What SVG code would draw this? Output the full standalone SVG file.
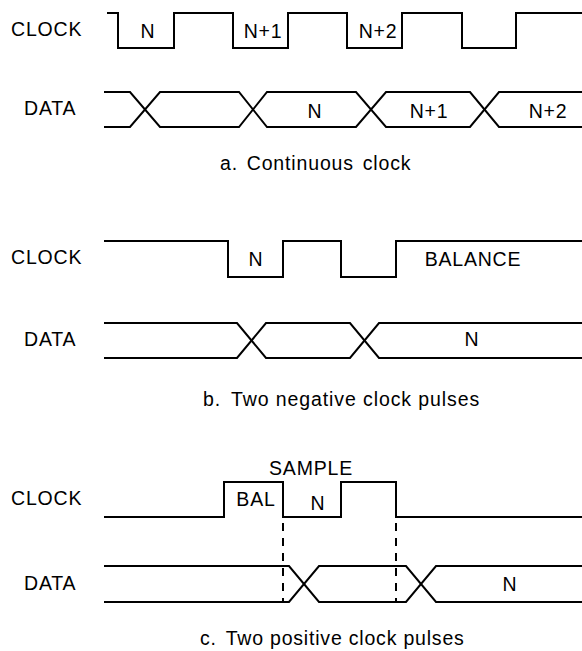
<svg xmlns="http://www.w3.org/2000/svg" width="582" height="651" viewBox="0 0 582 651">
<style>
.w{fill:none;stroke:#000;stroke-width:2;stroke-linejoin:miter;stroke-linecap:butt}
.d{fill:none;stroke:#000;stroke-width:2;stroke-dasharray:8 7}
text{font-family:"Liberation Sans",Arial,Helvetica,sans-serif;font-size:19.5px;fill:#000;letter-spacing:0.8px}
.m{text-anchor:middle}
</style>
<rect width="582" height="651" fill="#fff"/>
<g id="section-a">
<g id="a-clock">
<text x="11" y="36">CLOCK</text>
<path class="w" d="M107,13 H118 V48 H174 V13 H233 V48 H288 V13 H347 V48 H402 V13 H462 V48 H516 V13 H582"/>
<text class="m" x="148" y="38">N</text>
<text class="m" x="263" y="38">N+1</text>
<text class="m" x="378" y="38">N+2</text>
</g>
<g id="a-data">
<text x="24" y="115">DATA</text>
<path class="w" d="M104,92 H130 L160,127 H239 L267,92 H356 L386,127 H470 L499,92 H582"/>
<path class="w" d="M104,127 H130 L160,92 H239 L267,127 H356 L386,92 H470 L499,127 H582"/>
<text class="m" x="315" y="118">N</text>
<text class="m" x="429" y="118">N+1</text>
<text class="m" x="548" y="118">N+2</text>
</g>
<text id="a-caption" x="220" y="170" style="letter-spacing:0.85px;word-spacing:2.5px">a. Continuous clock</text>
</g>
<g id="section-b">
<g id="b-clock">
<text x="11" y="264">CLOCK</text>
<path class="w" d="M104,241 H228 V277 H283 V241 H341 V277 H396 V241 H582"/>
<text class="m" x="256" y="266">N</text>
<text class="m" x="473" y="266">BALANCE</text>
</g>
<g id="b-data">
<text x="24" y="346">DATA</text>
<path class="w" d="M104,323 H237 L266,358 H350 L379,323 H582"/>
<path class="w" d="M104,358 H237 L266,323 H350 L379,358 H582"/>
<text class="m" x="472" y="346">N</text>
</g>
<text id="b-caption" x="203" y="406" style="letter-spacing:0.9px">b.<tspan dx="4"> Two negative clock pulses</tspan></text>
</g>
<g id="section-c">
<g id="c-clock">
<text x="11" y="505">CLOCK</text>
<path class="w" d="M104,517 H224 V482 H283 V517 H341 V482 H396 V517 H582"/>
<text class="m" x="256" y="506">BAL</text>
<text class="m" x="311" y="475">SAMPLE</text>
<text class="m" x="318" y="510">N</text>
</g>
<g id="c-data">
<text x="24" y="590">DATA</text>
<path class="w" d="M104,566 H289 L319,602 H406 L436,566 H582"/>
<path class="w" d="M104,602 H289 L319,566 H406 L436,602 H582"/>
<text class="m" x="510" y="591">N</text>
</g>
<g id="connectors">
<line class="d" x1="283" y1="523" x2="283" y2="603"/>
<line class="d" x1="396" y1="523" x2="396" y2="603"/>
</g>
<text id="c-caption" x="200" y="645">c.<tspan dx="3"> Two positive clock pulses</tspan></text>
</g>
</svg>
